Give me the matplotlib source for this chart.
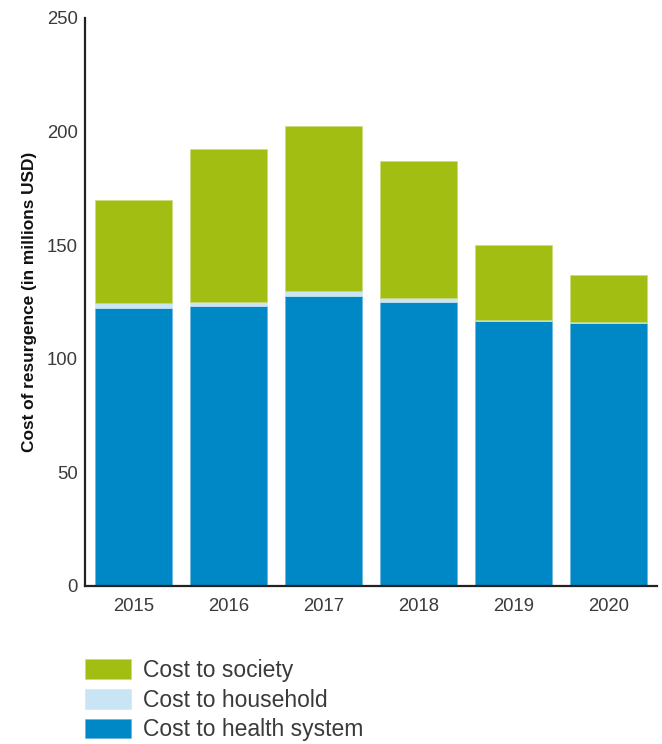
import matplotlib
matplotlib.use("Agg")
import matplotlib.pyplot as plt
import numpy as np

years = ["2015", "2016", "2017", "2018", "2019", "2020"]
health_system = [122.4, 123.0, 127.6, 125.0, 116.5, 115.8]
household = [2.0, 1.8, 2.0, 1.8, 0.6, 0.5]
society = [45.5, 67.7, 72.9, 60.1, 33.0, 20.4]
yticks = [0, 50, 100, 150, 200, 250]

c_health = "#0087c6"
c_house = "#c9e5f5"
c_soc = "#a3be12"
txt = "#3a3a3a"

plt.rcParams['font.family'] = ['Liberation Sans', 'DejaVu Sans']

fig = plt.figure(figsize=(6.62, 7.44), dpi=100)
ax = fig.add_axes([0.128, 0.2124, 0.864, 0.7636])

x = np.arange(len(years))
w = 0.81
h = np.array(health_system)
hh = np.array(household)
s = np.array(society)
b1 = ax.bar(x, h, w, color=c_health, edgecolor="#5fb3e0", linewidth=0.4, label="Cost to health system")
b2 = ax.bar(x, hh, w, bottom=h, color=c_house, edgecolor=c_house, linewidth=0.4, label="Cost to household")
b3 = ax.bar(x, s, w, bottom=h + hh, color=c_soc, edgecolor="#c8d97a", linewidth=0.4, label="Cost to society")

ax.set_xlim(-0.51, 5.51)
ax.set_ylim(0, 250)
ax.set_xticks(x)
ax.set_xticklabels(years)
ax.set_yticks(yticks)
ax.tick_params(axis='both', length=0, labelsize=13.3, colors=txt)
ax.tick_params(axis='y', pad=5)
ax.tick_params(axis='x', pad=9)
for sp in ["top", "right"]:
    ax.spines[sp].set_visible(False)
ax.spines["left"].set_color("#222222")
ax.spines["bottom"].set_color("#222222")
ax.spines["left"].set_linewidth(1.6)
ax.spines["bottom"].set_linewidth(1.6)
ax.set_ylabel("Cost of resurgence (in millions USD)", fontsize=12.4, fontweight="bold", color="#111111", labelpad=7)

leg = fig.legend(handles=[b3, b2, b1], labels=["Cost to society", "Cost to household", "Cost to health system"],
                 loc="upper left", bbox_to_anchor=(0.1284, 0.1146), frameon=False, fontsize=16.5,
                 handlelength=2.0, handleheight=0.95, handletextpad=0.52, labelspacing=0.30, borderaxespad=0, borderpad=0)
for t in leg.get_texts():
    t.set_color(txt)

fig.savefig("out.png", dpi=100)
